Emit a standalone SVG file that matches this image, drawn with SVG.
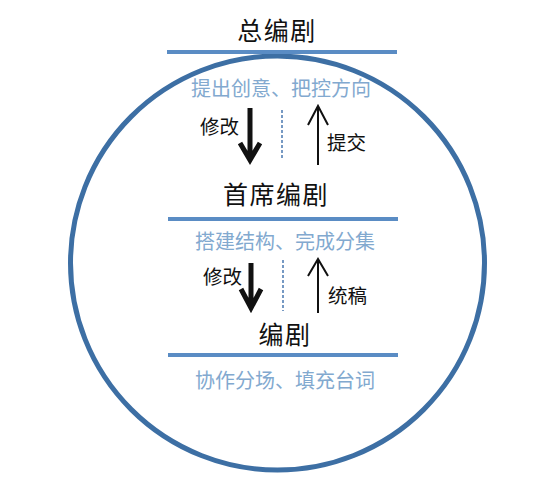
<svg xmlns="http://www.w3.org/2000/svg" width="556" height="490" viewBox="0 0 556 490">
<style>
.title{font-family:"Noto Sans CJK SC","Noto Sans",sans-serif;fill:#111;text-anchor:middle;font-size:25px;letter-spacing:1.5px}
.sub{font-family:"Noto Sans CJK SC","Noto Sans",sans-serif;fill:#82a9cf;font-size:20px;text-anchor:middle}
.lbl{font-family:"Noto Sans CJK SC","Noto Sans",sans-serif;fill:#111;font-size:19.5px}
.bar{stroke:#5a8cc4;stroke-width:4}
.thick{stroke:#111;stroke-width:5;fill:none;stroke-linecap:butt}
.thin{stroke:#111;stroke-width:2;fill:none}
.dash{stroke:#4a78b0;stroke-width:1.5;stroke-dasharray:3 2;fill:none}
</style>
<rect width="556" height="490" fill="#fff"/>
<circle cx="277.5" cy="263" r="207" fill="none" stroke="#3d6fa4" stroke-width="5"/>
<g id="chief">
<text class="title" x="277" y="40">总编剧</text>
<line class="bar" x1="167" y1="52" x2="397" y2="52"/>
<text class="sub" x="281" y="96">提出创意、把控方向</text>
</g>
<g id="head">
<text class="title" x="276" y="204">首席编剧</text>
<line class="bar" x1="168" y1="219" x2="398" y2="219"/>
<text class="sub" x="285" y="249">搭建结构、完成分集</text>
</g>
<g id="writer">
<text class="title" x="285" y="344">编剧</text>
<line class="bar" x1="168" y1="355" x2="398" y2="355"/>
<text class="sub" x="285" y="388">协作分场、填充台词</text>
</g>
<g id="connectors">
<path class="thick" d="M250 108 V160 M240 143 L250 160 L260 143"/>
<line class="dash" x1="282" y1="110" x2="282" y2="160"/>
<path class="thin" d="M318 165 V106 M308 125 L318 106 L328 125"/>
<text class="lbl" x="200" y="134">修改</text>
<text class="lbl" x="327" y="150">提交</text>
<path class="thick" d="M251 263 V308 M241 289 L251 308 L261 289" stroke="#333"/>
<line class="dash" x1="283" y1="260" x2="283" y2="311"/>
<path class="thin" d="M318 313 V259 M308 276 L318 259 L328 276"/>
<text class="lbl" x="203" y="284">修改</text>
<text class="lbl" x="328" y="303">统稿</text>
</g>
</svg>
